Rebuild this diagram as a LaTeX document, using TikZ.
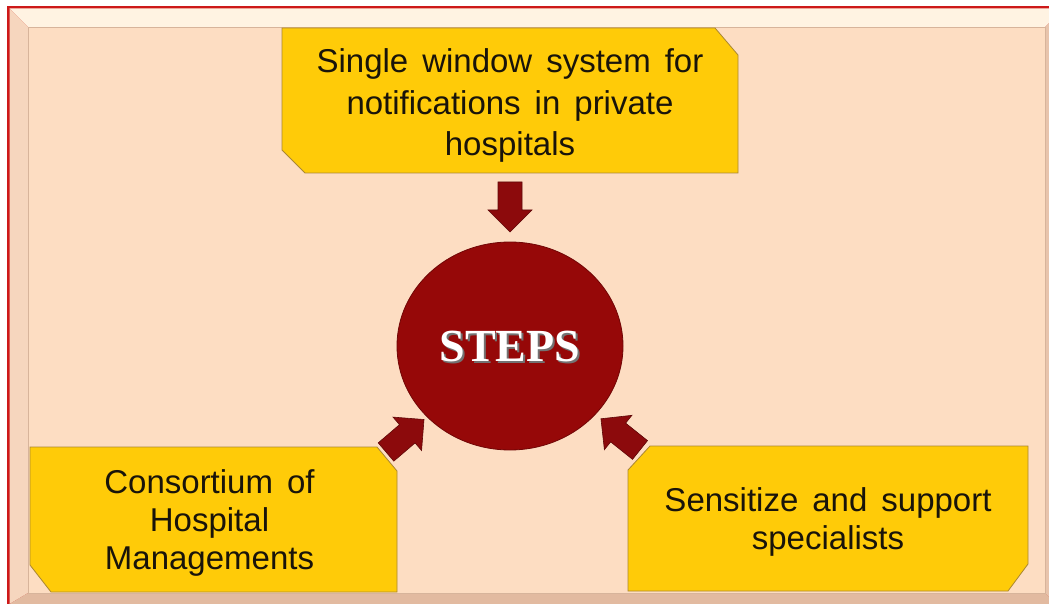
\documentclass[tikz,border=0pt]{standalone}
\usepackage{fontspec}
\setmainfont{Liberation Sans}
\newfontfamily\stepsfont{Liberation Serif}
\usetikzlibrary{shapes.geometric,calc}
\pgfdeclarelayer{frame}
\pgfdeclarelayer{background}
\pgfsetlayers{frame,background,main}
\newcommand\widerspaces{\spaceskip 14pt plus 2pt minus 2pt\relax}
\definecolor{panel}{RGB}{253,221,194}
\definecolor{framered}{RGB}{205,25,25}
\definecolor{beveltop}{RGB}{255,243,226}
\definecolor{bevelleft}{RGB}{246,214,190}
\definecolor{bevelbottom}{RGB}{226,186,160}
\definecolor{bevelright}{RGB}{232,196,172}
\definecolor{panelline}{RGB}{215,180,155}
\definecolor{boxgold}{RGB}{255,203,8}
\definecolor{boxedge}{RGB}{170,135,50}
\definecolor{textdark}{RGB}{25,20,10}
\definecolor{circred}{RGB}{150,8,8}
\definecolor{arrowred}{RGB}{140,10,12}
\definecolor{arrowedge}{RGB}{95,8,8}
\tikzset{
  boxarea/.style={rectangle, draw=none, inner sep=0pt, outer sep=0pt},
  boxshape/.style={fill=boxgold, draw=boxedge, line width=0.8pt, line join=miter},
  boxtext/.style={align=center, text=textdark, inner sep=0pt},
  stepsfontstyle/.style={font=\stepsfont\bfseries\fontsize{46}{46}\selectfont},
  blockarrow/.pic={\filldraw[fill=arrowred, draw=arrowedge, line width=0.6pt]
    (0pt,-12pt) -- (28pt,-12pt) -- (28pt,-22pt) -- (50pt,0pt) -- (28pt,22pt)
    -- (28pt,12pt) -- (0pt,12pt) -- cycle;}
}
\begin{document}
\begin{tikzpicture}[x=1pt,y=-1pt]
\useasboundingbox (0,0) rectangle (1049,604);
% frame
\begin{pgfonlayer}{frame}
\fill[white] (0,0) rectangle (1049,604);
\fill[framered] (7,6) rectangle (1049,604);
\fill[beveltop] (9.5,8.5) -- (1049,8.5) -- (1049,23) -- (1045,27) -- (28,27) -- cycle;
\fill[bevelleft] (9.5,8.5) -- (28,27) -- (28,593) -- (9.5,604) -- cycle;
\fill[bevelbottom] (28,593) -- (1045,593) -- (1049,597) -- (1049,604) -- (9.5,604) -- cycle;
\fill[bevelright] (1045,27) -- (1049,23) -- (1049,597) -- (1045,593) -- cycle;
\filldraw[fill=panel, draw=panelline, line width=0.8pt] (28,27) rectangle (1045,593);
\end{pgfonlayer}
% box areas
\node[boxarea, minimum width=456pt, minimum height=145pt] (top) at (510,100.5) {};
\node[boxarea, minimum width=367pt, minimum height=145pt] (left) at (213.5,519.5) {};
\node[boxarea, minimum width=400pt, minimum height=145pt] (right) at (828,518.5) {};
\begin{pgfonlayer}{background}
\draw[boxshape] (top.north west) -- ([xshift=-23pt]top.north east)
  -- ([yshift=-27pt]top.north east) -- (top.south east)
  -- ([xshift=23pt]top.south west) -- ([yshift=23pt]top.south west) -- cycle;
\draw[boxshape] (left.north west) -- ([xshift=-20pt]left.north east)
  -- ([yshift=-24pt]left.north east) -- (left.south east)
  -- ([xshift=21pt]left.south west) -- ([yshift=27pt]left.south west) -- cycle;
\draw[boxshape] ([yshift=-24pt]right.north west) -- ([xshift=22pt]right.north west)
  -- (right.north east) -- ([yshift=27pt]right.south east)
  -- ([xshift=-20pt]right.south east) -- (right.south west) -- cycle;
\end{pgfonlayer}
% box texts
\node[boxtext, font=\fontsize{33}{41.5}\selectfont\widerspaces]
  (toptext) at ($(top.center)+(0,5)$)
  {Single window system for\\notifications in private\\hospitals};
\node[boxtext, font=\fontsize{33}{38}\selectfont\widerspaces]
  (lefttext) at ($(left.center)+(-4,3)$)
  {Consortium of\\Hospital\\Managements};
\node[boxtext, font=\fontsize{33}{38}\selectfont\widerspaces]
  (righttext) at ($(right.center)+(0,3)$)
  {Sensitize and support\\specialists};
% centre
\node[ellipse, fill=circred, draw=circred!75!black, line width=0.8pt,
  minimum width=226pt, minimum height=208pt] (steps) at (510,346) {};
\node[stepsfontstyle, text=black!55] (stepsshadow) at ($(steps.center)+(2,2)$) {STEPS};
\node[stepsfontstyle, text=white] (stepslabel) at (steps.center) {STEPS};
% arrows
\coordinate (tat) at ([yshift=-9pt]top.south);
\coordinate (blt) at (386,452);
\coordinate (brt) at (640,450);
\foreach \tail in {tat,blt,brt}{
  \path let \p1=(\tail), \p2=(steps.center), \n1={atan2(\y2-\y1,\x2-\x1)}
    in (\p1) pic[rotate=\n1] {blockarrow};
}
\end{tikzpicture}
\end{document}
